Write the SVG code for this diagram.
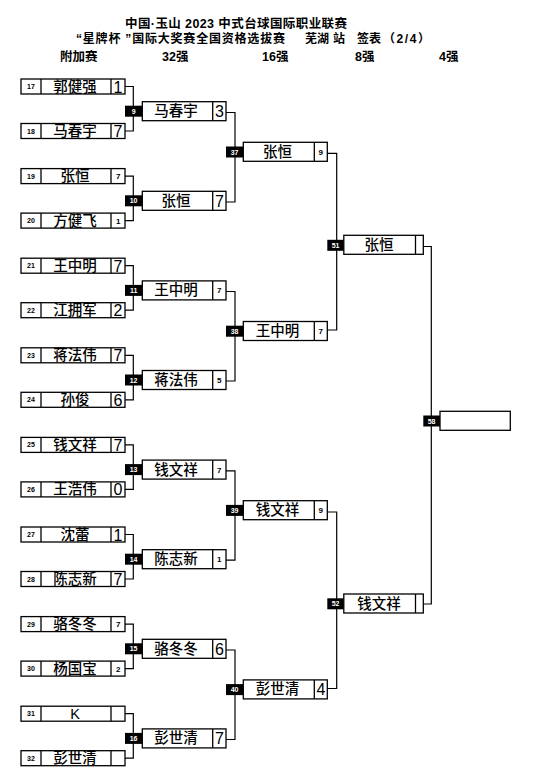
<svg xmlns="http://www.w3.org/2000/svg" width="541" height="781" viewBox="0 0 541 781">
<style>
.bg{fill:#fff}
.bx{fill:#fff;stroke:#000;stroke-width:1.3}
.dv{stroke:#000;stroke-width:1.3}
.cn{fill:none;stroke:#000;stroke-width:1.2}
.lb{fill:#000}
.lt{fill:#fff;font-family:"Liberation Sans",sans-serif;font-size:7px;font-weight:bold;text-anchor:middle}
.sd{fill:#000;font-family:"Liberation Sans",sans-serif;font-size:7px;font-weight:bold;text-anchor:middle}
.nm{fill:#000;font-family:"Liberation Sans","Noto Sans CJK SC",sans-serif;font-size:14.5px;font-weight:500;text-anchor:middle}
.sl{fill:#000;font-family:"Liberation Sans",sans-serif;font-size:16px}
.ss{fill:#000;font-family:"Liberation Sans",sans-serif;font-size:8px;font-weight:bold}
.hd{fill:#000;font-family:"Liberation Sans","Noto Sans CJK SC",sans-serif;font-size:12.5px;font-weight:bold}
.h2{fill:#000;font-family:"Liberation Sans","Noto Sans CJK SC",sans-serif;font-size:12px;font-weight:bold}
</style>
<rect class="bg" x="0" y="0" width="541" height="781"/>
<g id="header">
<text class="hd" x="125" y="28" textLength="222" lengthAdjust="spacing">中国·玉山 2023 中式台球国际职业联赛</text>
<text class="h2" x="76" y="43" textLength="209" lengthAdjust="spacing">“星牌杯 ”国际大奖赛全国资格选拔赛</text>
<text class="h2" x="305" y="43">芜湖</text>
<text class="h2" x="333" y="43">站</text>
<text class="h2" x="357" y="43">签表</text>
<text class="h2" x="383" y="43" textLength="47" lengthAdjust="spacing">（2/4）</text>
<text class="hd" x="60" y="61">附加赛</text>
<text class="hd" x="162" y="61">32强</text>
<text class="hd" x="262" y="61">16强</text>
<text class="hd" x="355" y="61">8强</text>
<text class="hd" x="439" y="61">4强</text>
</g>
<g id="connectors">
<path class="cn" d="M125,86.5H133.3V131H125"/>
<path class="cn" d="M125,176.1H133.3V220.6H125"/>
<path class="cn" d="M125,265.7H133.3V310.2H125"/>
<path class="cn" d="M125,355.3H133.3V399.8H125"/>
<path class="cn" d="M125,444.9H133.3V489.4H125"/>
<path class="cn" d="M125,534.5H133.3V579H125"/>
<path class="cn" d="M125,624.1H133.3V668.6H125"/>
<path class="cn" d="M125,713.7H133.3V758.2H125"/>
<path class="cn" d="M226,112.5H235V202H226"/>
<path class="cn" d="M226,291.5H235V381H226"/>
<path class="cn" d="M226,470.8H235V560.2H226"/>
<path class="cn" d="M226,650H235V739.5H226"/>
<path class="cn" d="M327.3,153.3H336.7V330H327.3"/>
<path class="cn" d="M327.3,512H336.7V688.5H327.3"/>
<path class="cn" d="M423.3,246.5H431.3V604H423.3"/>
</g>
<g id="n17"><rect class="bx" x="21" y="79" width="104" height="15"/><line class="dv" x1="41" y1="79" x2="41" y2="94"/><line class="dv" x1="111" y1="79" x2="111" y2="94"/><text class="sd" x="31" y="89">17</text><text class="nm" x="75" y="91.5">郭健强</text><text class="sl" x="113.5" y="92.5">1</text></g>
<g id="n18"><rect class="bx" x="21" y="123.5" width="104" height="15"/><line class="dv" x1="41" y1="123.5" x2="41" y2="138.5"/><line class="dv" x1="111" y1="123.5" x2="111" y2="138.5"/><text class="sd" x="31" y="133.5">18</text><text class="nm" x="75" y="136">马春宇</text><text class="sl" x="113.5" y="137">7</text></g>
<g id="n19"><rect class="bx" x="21" y="168.6" width="104" height="15"/><line class="dv" x1="41" y1="168.6" x2="41" y2="183.6"/><line class="dv" x1="111" y1="168.6" x2="111" y2="183.6"/><text class="sd" x="31" y="178.6">19</text><text class="nm" x="75" y="181.1">张恒</text><text class="ss" x="116" y="179">7</text></g>
<g id="n20"><rect class="bx" x="21" y="213.1" width="104" height="15"/><line class="dv" x1="41" y1="213.1" x2="41" y2="228.1"/><line class="dv" x1="111" y1="213.1" x2="111" y2="228.1"/><text class="sd" x="31" y="223.1">20</text><text class="nm" x="75" y="225.6">方健飞</text><text class="ss" x="116" y="223.5">1</text></g>
<g id="n21"><rect class="bx" x="21" y="258.2" width="104" height="15"/><line class="dv" x1="41" y1="258.2" x2="41" y2="273.2"/><line class="dv" x1="111" y1="258.2" x2="111" y2="273.2"/><text class="sd" x="31" y="268.2">21</text><text class="nm" x="75" y="270.7">王中明</text><text class="sl" x="113.5" y="271.7">7</text></g>
<g id="n22"><rect class="bx" x="21" y="302.7" width="104" height="15"/><line class="dv" x1="41" y1="302.7" x2="41" y2="317.7"/><line class="dv" x1="111" y1="302.7" x2="111" y2="317.7"/><text class="sd" x="31" y="312.7">22</text><text class="nm" x="75" y="315.2">江拥军</text><text class="sl" x="113.5" y="316.2">2</text></g>
<g id="n23"><rect class="bx" x="21" y="347.8" width="104" height="15"/><line class="dv" x1="41" y1="347.8" x2="41" y2="362.8"/><line class="dv" x1="111" y1="347.8" x2="111" y2="362.8"/><text class="sd" x="31" y="357.8">23</text><text class="nm" x="75" y="360.3">蒋法伟</text><text class="sl" x="113.5" y="361.3">7</text></g>
<g id="n24"><rect class="bx" x="21" y="392.3" width="104" height="15"/><line class="dv" x1="41" y1="392.3" x2="41" y2="407.3"/><line class="dv" x1="111" y1="392.3" x2="111" y2="407.3"/><text class="sd" x="31" y="402.3">24</text><text class="nm" x="75" y="404.8">孙俊</text><text class="sl" x="113.5" y="405.8">6</text></g>
<g id="n25"><rect class="bx" x="21" y="437.4" width="104" height="15"/><line class="dv" x1="41" y1="437.4" x2="41" y2="452.4"/><line class="dv" x1="111" y1="437.4" x2="111" y2="452.4"/><text class="sd" x="31" y="447.4">25</text><text class="nm" x="75" y="449.9">钱文祥</text><text class="sl" x="113.5" y="450.9">7</text></g>
<g id="n26"><rect class="bx" x="21" y="481.9" width="104" height="15"/><line class="dv" x1="41" y1="481.9" x2="41" y2="496.9"/><line class="dv" x1="111" y1="481.9" x2="111" y2="496.9"/><text class="sd" x="31" y="491.9">26</text><text class="nm" x="75" y="494.4">王浩伟</text><text class="sl" x="113.5" y="495.4">0</text></g>
<g id="n27"><rect class="bx" x="21" y="527" width="104" height="15"/><line class="dv" x1="41" y1="527" x2="41" y2="542"/><line class="dv" x1="111" y1="527" x2="111" y2="542"/><text class="sd" x="31" y="537">27</text><text class="nm" x="75" y="539.5">沈蕾</text><text class="sl" x="113.5" y="540.5">1</text></g>
<g id="n28"><rect class="bx" x="21" y="571.5" width="104" height="15"/><line class="dv" x1="41" y1="571.5" x2="41" y2="586.5"/><line class="dv" x1="111" y1="571.5" x2="111" y2="586.5"/><text class="sd" x="31" y="581.5">28</text><text class="nm" x="75" y="584">陈志新</text><text class="sl" x="113.5" y="585">7</text></g>
<g id="n29"><rect class="bx" x="21" y="616.6" width="104" height="15"/><line class="dv" x1="41" y1="616.6" x2="41" y2="631.6"/><line class="dv" x1="111" y1="616.6" x2="111" y2="631.6"/><text class="sd" x="31" y="626.6">29</text><text class="nm" x="75" y="629.1">骆冬冬</text><text class="ss" x="116" y="627">7</text></g>
<g id="n30"><rect class="bx" x="21" y="661.1" width="104" height="15"/><line class="dv" x1="41" y1="661.1" x2="41" y2="676.1"/><line class="dv" x1="111" y1="661.1" x2="111" y2="676.1"/><text class="sd" x="31" y="671.1">30</text><text class="nm" x="75" y="673.6">杨国宝</text><text class="ss" x="116" y="671.5">2</text></g>
<g id="n31"><rect class="bx" x="21" y="706.2" width="104" height="15"/><line class="dv" x1="41" y1="706.2" x2="41" y2="721.2"/><line class="dv" x1="111" y1="706.2" x2="111" y2="721.2"/><text class="sd" x="31" y="716.2">31</text><text class="nm" x="75" y="718.7">K</text></g>
<g id="n32"><rect class="bx" x="21" y="750.7" width="104" height="15"/><line class="dv" x1="41" y1="750.7" x2="41" y2="765.7"/><line class="dv" x1="111" y1="750.7" x2="111" y2="765.7"/><text class="sd" x="31" y="760.7">32</text><text class="nm" x="75" y="763.2">彭世清</text></g>
<g id="n9"><rect class="lb" x="125" y="105.7" width="17.3" height="11"/><text class="lt" x="133.6" y="113.7">9</text><rect class="bx" x="142.3" y="101.7" width="83.7" height="19"/><line class="dv" x1="212.7" y1="101.7" x2="212.7" y2="120.7"/><text class="nm" x="176" y="116.2">马春宇</text><text class="sl" x="215" y="117.2">3</text></g>
<g id="n10"><rect class="lb" x="125" y="195.3" width="17.3" height="11"/><text class="lt" x="133.6" y="203.3">10</text><rect class="bx" x="142.3" y="191.3" width="83.7" height="19"/><line class="dv" x1="212.7" y1="191.3" x2="212.7" y2="210.3"/><text class="nm" x="176" y="205.8">张恒</text><text class="sl" x="215" y="206.8">7</text></g>
<g id="n11"><rect class="lb" x="125" y="284.9" width="17.3" height="11"/><text class="lt" x="133.6" y="292.9">11</text><rect class="bx" x="142.3" y="280.9" width="83.7" height="19"/><line class="dv" x1="212.7" y1="280.9" x2="212.7" y2="299.9"/><text class="nm" x="176" y="295.4">王中明</text><text class="ss" x="217" y="293.3">7</text></g>
<g id="n12"><rect class="lb" x="125" y="374.5" width="17.3" height="11"/><text class="lt" x="133.6" y="382.5">12</text><rect class="bx" x="142.3" y="370.5" width="83.7" height="19"/><line class="dv" x1="212.7" y1="370.5" x2="212.7" y2="389.5"/><text class="nm" x="176" y="385">蒋法伟</text><text class="ss" x="217" y="382.9">5</text></g>
<g id="n13"><rect class="lb" x="125" y="464.1" width="17.3" height="11"/><text class="lt" x="133.6" y="472.1">13</text><rect class="bx" x="142.3" y="460.1" width="83.7" height="19"/><line class="dv" x1="212.7" y1="460.1" x2="212.7" y2="479.1"/><text class="nm" x="176" y="474.6">钱文祥</text><text class="ss" x="217" y="472.5">7</text></g>
<g id="n14"><rect class="lb" x="125" y="553.7" width="17.3" height="11"/><text class="lt" x="133.6" y="561.7">14</text><rect class="bx" x="142.3" y="549.7" width="83.7" height="19"/><line class="dv" x1="212.7" y1="549.7" x2="212.7" y2="568.7"/><text class="nm" x="176" y="564.2">陈志新</text><text class="ss" x="217" y="562.1">1</text></g>
<g id="n15"><rect class="lb" x="125" y="643.3" width="17.3" height="11"/><text class="lt" x="133.6" y="651.3">15</text><rect class="bx" x="142.3" y="639.3" width="83.7" height="19"/><line class="dv" x1="212.7" y1="639.3" x2="212.7" y2="658.3"/><text class="nm" x="176" y="653.8">骆冬冬</text><text class="sl" x="215" y="654.8">6</text></g>
<g id="n16"><rect class="lb" x="125" y="732.9" width="17.3" height="11"/><text class="lt" x="133.6" y="740.9">16</text><rect class="bx" x="142.3" y="728.9" width="83.7" height="19"/><line class="dv" x1="212.7" y1="728.9" x2="212.7" y2="747.9"/><text class="nm" x="176" y="743.4">彭世清</text><text class="sl" x="215" y="744.4">7</text></g>
<g id="n37"><rect class="lb" x="226" y="146.5" width="17.3" height="11"/><text class="lt" x="234.6" y="154.5">37</text><rect class="bx" x="243.3" y="142.3" width="84" height="19"/><line class="dv" x1="314.3" y1="142.3" x2="314.3" y2="161.3"/><text class="nm" x="277.5" y="156.8">张恒</text><text class="ss" x="318.5" y="154.7">9</text></g>
<g id="n38"><rect class="lb" x="226" y="325.7" width="17.3" height="11"/><text class="lt" x="234.6" y="333.7">38</text><rect class="bx" x="243.3" y="321.5" width="84" height="19"/><line class="dv" x1="314.3" y1="321.5" x2="314.3" y2="340.5"/><text class="nm" x="277.5" y="336">王中明</text><text class="ss" x="318.5" y="333.9">7</text></g>
<g id="n39"><rect class="lb" x="226" y="504.9" width="17.3" height="11"/><text class="lt" x="234.6" y="512.9">39</text><rect class="bx" x="243.3" y="500.7" width="84" height="19"/><line class="dv" x1="314.3" y1="500.7" x2="314.3" y2="519.7"/><text class="nm" x="277.5" y="515.2">钱文祥</text><text class="ss" x="318.5" y="513.1">9</text></g>
<g id="n40"><rect class="lb" x="226" y="684.1" width="17.3" height="11"/><text class="lt" x="234.6" y="692.1">40</text><rect class="bx" x="243.3" y="679.9" width="84" height="19"/><line class="dv" x1="314.3" y1="679.9" x2="314.3" y2="698.9"/><text class="nm" x="277.5" y="694.4">彭世清</text><text class="sl" x="316.5" y="695.4">4</text></g>
<g id="n51"><rect class="lb" x="327.3" y="239.8" width="16.5" height="11"/><text class="lt" x="335.6" y="247.8">51</text><rect class="bx" x="343.8" y="235.3" width="79.5" height="19"/><line class="dv" x1="415.5" y1="235.3" x2="415.5" y2="254.3"/><text class="nm" x="379" y="249.8">张恒</text></g>
<g id="n52"><rect class="lb" x="327.3" y="598.3" width="16.5" height="11"/><text class="lt" x="335.6" y="606.3">52</text><rect class="bx" x="343.8" y="594" width="79.5" height="19"/><line class="dv" x1="415.5" y1="594" x2="415.5" y2="613"/><text class="nm" x="379" y="608.5">钱文祥</text></g>
<g id="n58"><rect class="lb" x="423.3" y="415.5" width="16.7" height="11"/><text class="lt" x="431.6" y="423.5">58</text><rect class="bx" x="440" y="411.3" width="70.3" height="19"/></g>
</svg>
